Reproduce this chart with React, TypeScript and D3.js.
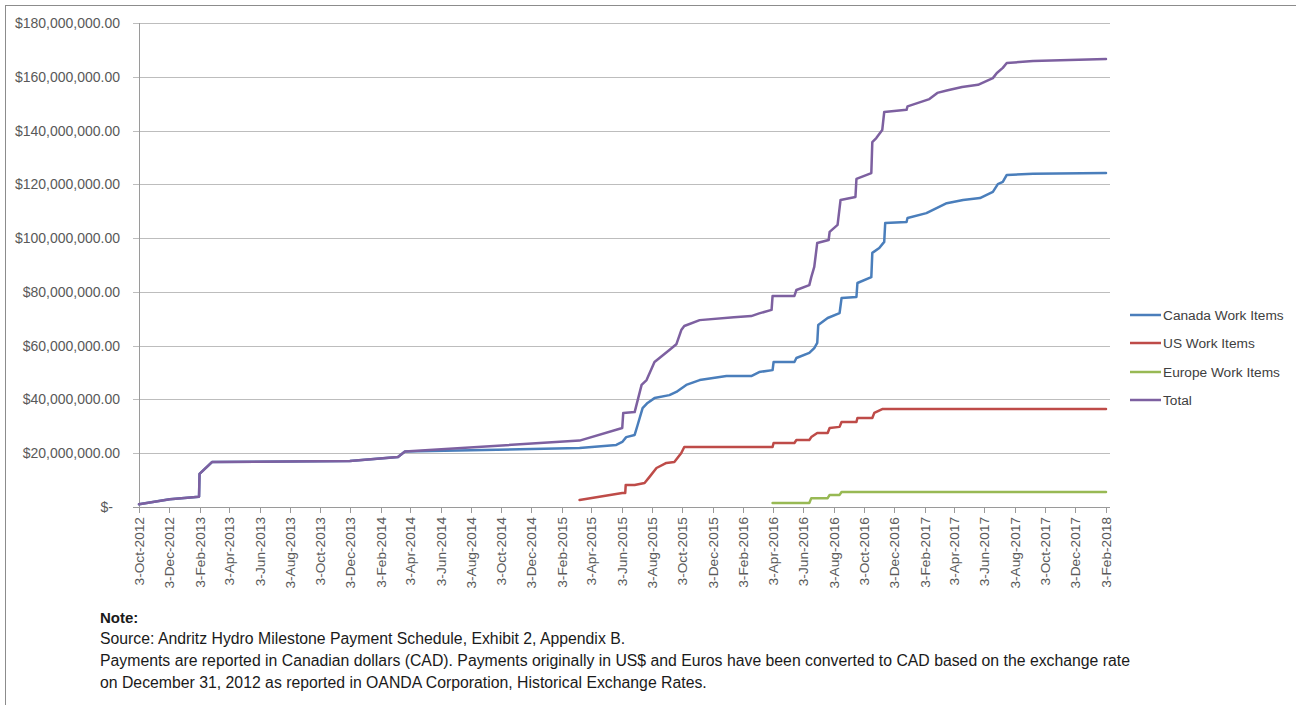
import React, { useEffect, useRef } from "react";
import * as d3 from "d3";

// ---- Data (values in millions of CAD) ----
const canadaDates = [
  "2012-10-03","2012-12-04","2013-02-01","2013-02-02","2013-02-27","2013-12-02","2014-03-09","2014-03-23",
  "2015-03-10","2015-05-23","2015-06-04","2015-06-12","2015-06-29","2015-07-05","2015-07-15","2015-07-25",
  "2015-08-08","2015-09-07","2015-09-21","2015-10-11","2015-11-07","2015-12-31","2016-02-19","2016-03-06",
  "2016-04-02","2016-04-04","2016-05-16","2016-05-20","2016-06-15","2016-06-25","2016-07-01","2016-07-03",
  "2016-07-22","2016-08-15","2016-08-19","2016-09-18","2016-09-20","2016-10-18","2016-10-20","2016-11-03",
  "2016-11-13","2016-11-15","2016-12-28","2016-12-30","2017-02-06","2017-03-19","2017-04-21","2017-05-25",
  "2017-06-20","2017-06-30","2017-07-10","2017-07-18","2017-09-09","2018-02-03"
];
const canadaValues = [
  1.0, 2.9, 3.8, 12.3, 16.7, 17.1, 18.6, 20.6,
  21.9, 23.1, 24.2, 26.0, 26.8, 30.5, 36.8, 38.7,
  40.5, 41.6, 42.8, 45.4, 47.2, 48.7, 48.7, 50.2,
  50.9, 53.9, 53.9, 55.4, 57.3, 59.1, 61.0, 67.7,
  70.3, 72.1, 77.7, 78.1, 83.3, 85.5, 94.5, 96.3,
  98.6, 105.6, 106.0, 107.5, 109.3, 113.0, 114.2, 114.9,
  117.2, 120.1, 120.9, 123.5, 123.9, 124.2
];

const usDates = [
  "2015-03-10","2015-06-04","2015-06-10","2015-06-11","2015-06-29","2015-07-19","2015-07-29","2015-08-12",
  "2015-09-01","2015-09-17","2015-10-01","2015-10-07","2016-04-02","2016-04-04","2016-05-16","2016-05-20",
  "2016-06-15","2016-06-19","2016-07-01","2016-07-22","2016-07-26","2016-08-15","2016-08-19","2016-09-18",
  "2016-09-20","2016-10-20","2016-10-24","2016-11-09","2018-02-03"
];
const usValues = [
  2.6, 5.2, 5.2, 8.2, 8.2, 8.9, 11.2, 14.5,
  16.4, 16.7, 20.1, 22.3, 22.3, 23.8, 23.8, 24.9,
  24.9, 26.0, 27.5, 27.5, 29.4, 29.8, 31.6, 31.6,
  33.1, 33.1, 35.0, 36.4, 36.4
];

const europeDates = [
  "2016-04-02","2016-06-15","2016-06-19","2016-07-22","2016-07-26","2016-08-15","2016-08-19","2018-02-03"
];
const europeValues = [1.5, 1.5, 3.3, 3.3, 4.5, 4.5, 5.6, 5.6];

const totalDates = [
  "2012-10-03","2012-12-04","2013-02-01","2013-02-02","2013-02-27","2013-12-02","2014-03-09","2014-03-23",
  "2015-03-10","2015-06-04","2015-06-06","2015-06-29","2015-07-13","2015-07-23","2015-08-08","2015-08-18",
  "2015-09-07","2015-09-21","2015-10-01","2015-10-07","2015-11-07","2016-01-15","2016-02-19","2016-03-06",
  "2016-03-31","2016-04-02","2016-05-16","2016-05-20","2016-06-15","2016-06-19","2016-06-25","2016-07-01",
  "2016-07-24","2016-07-26","2016-08-11","2016-08-17","2016-09-16","2016-09-18","2016-10-18","2016-10-20",
  "2016-10-28","2016-11-09","2016-11-13","2016-12-28","2016-12-30","2017-02-12","2017-02-28","2017-03-21",
  "2017-04-19","2017-05-21","2017-06-20","2017-06-28","2017-07-10","2017-07-18","2017-09-09","2018-02-03"
];
const totalValues = [
  1.0, 2.9, 3.8, 12.3, 16.7, 17.1, 18.6, 20.6,
  24.7, 29.4, 35.0, 35.3, 45.4, 47.2, 53.9, 55.4,
  58.4, 60.5, 65.8, 67.3, 69.5, 70.6, 71.0, 72.0,
  73.3, 78.5, 78.5, 80.7, 82.5, 85.5, 89.3, 98.2,
  99.3, 102.3, 104.9, 114.2, 115.3, 122.0, 124.2, 135.7,
  137.2, 140.2, 146.9, 147.7, 149.0, 151.7, 154.0, 155.0,
  156.2, 157.0, 159.5, 161.4, 163.3, 165.1, 165.9, 166.6
];

const seriesNames = ["Canada Work Items", "US Work Items", "Europe Work Items", "Total"];
const seriesColors = ["#4A7EBB", "#BE4B48", "#98B954", "#7D60A0"];
const yTickValues = [0, 20, 40, 60, 80, 100, 120, 140, 160, 180];
const xStartDate = "2012-10-03";
const xEndDate = "2018-02-03";
const noteLines = [
  "Source: Andritz Hydro Milestone Payment Schedule, Exhibit 2, Appendix B.",
  "Payments are reported in Canadian dollars (CAD). Payments originally in US$ and Euros have been converted to CAD based on the exchange rate",
  "on December 31, 2012 as reported in OANDA Corporation, Historical Exchange Rates."
];

const FONT = "'Liberation Sans', Arial, sans-serif";

export default function App() {
  const ref = useRef<SVGSVGElement | null>(null);

  useEffect(() => {
    document.body.style.margin = "0";
    const svg = d3.select(ref.current);
    svg.selectAll("*").remove();

    const parse = d3.timeParse("%Y-%m-%d");
    const left = 139, right = 1106, top = 23, bottom = 507;
    const x = d3.scaleTime().domain([parse(xStartDate)!, parse(xEndDate)!]).range([left, right]);
    const y = d3.scaleLinear().domain([0, 180]).range([bottom, top]);

    // frame
    svg.append("rect").attr("x", 5.5).attr("y", 5.5).attr("width", 1400).attr("height", 800)
      .attr("fill", "white").attr("stroke", "#8C8C8C").attr("stroke-width", 1);

    // gridlines + y labels
    const fmt = d3.format("$,.2f");
    yTickValues.forEach((v) => {
      const yy = Math.round(y(v)) + 0.5;
      svg.append("line").attr("x1", left - 6).attr("x2", 1110).attr("y1", yy).attr("y2", yy)
        .attr("stroke", v === 0 ? "#9A9A9A" : "#BDBDBD").attr("stroke-width", 1);
      svg.append("text")
        .attr("x", v === 0 ? 113 : 120).attr("y", yy).attr("dy", "0.35em")
        .attr("text-anchor", "end").attr("font-family", FONT).attr("font-size", 14)
        .attr("fill", "#595959")
        .text(v === 0 ? "$-" : fmt(v * 1e6));
    });

    // y axis line
    svg.append("line").attr("x1", left + 0.5).attr("x2", left + 0.5).attr("y1", top).attr("y2", bottom)
      .attr("stroke", "#9A9A9A");

    // x ticks every two months
    const ticks: Date[] = [];
    const start = parse(xStartDate)!;
    for (let i = 0; i <= 32; i++) ticks.push(new Date(start.getFullYear(), start.getMonth() + 2 * i, 3));
    const tf = d3.timeFormat("%-d-%b-%Y");
    ticks.forEach((t) => {
      const xx = Math.round(x(t)) + 0.5;
      svg.append("line").attr("x1", xx).attr("x2", xx).attr("y1", bottom).attr("y2", bottom + 6)
        .attr("stroke", "#9A9A9A");
      svg.append("text")
        .attr("transform", `translate(${xx},${bottom + 10}) rotate(-90)`)
        .attr("text-anchor", "end").attr("dy", "0.35em")
        .attr("font-family", FONT).attr("font-size", 13.7).attr("fill", "#595959")
        .text(tf(t));
    });

    // series
    const all = [
      { d: canadaDates, v: canadaValues },
      { d: usDates, v: usValues },
      { d: europeDates, v: europeValues },
      { d: totalDates, v: totalValues },
    ];
    const line = d3.line<[Date, number]>().x((p) => x(p[0])).y((p) => y(p[1]));
    all.forEach((s, i) => {
      const pts: [Date, number][] = s.d.map((dd, k) => [parse(dd)!, s.v[k]]);
      svg.append("path").attr("d", line(pts)!).attr("fill", "none")
        .attr("stroke", seriesColors[i]).attr("stroke-width", 2.5)
        .attr("stroke-linejoin", "round").attr("stroke-linecap", "round");
    });

    // legend
    const legY = [315, 343, 372, 400];
    seriesNames.forEach((n, i) => {
      svg.append("line").attr("x1", 1130).attr("x2", 1161).attr("y1", legY[i]).attr("y2", legY[i])
        .attr("stroke", seriesColors[i]).attr("stroke-width", 2.5);
      svg.append("text").attr("x", 1163).attr("y", legY[i]).attr("dy", "0.35em")
        .attr("font-family", FONT).attr("font-size", 13.7).attr("fill", "#404040").text(n);
    });

    // note
    svg.append("text").attr("x", 100).attr("y", 623).attr("font-family", FONT)
      .attr("font-size", 15).attr("font-weight", "bold").attr("fill", "#1a1a1a").text("Note:");
    const noteY = [644, 666, 688];
    noteLines.forEach((l, i) => {
      svg.append("text").attr("x", 100).attr("y", noteY[i]).attr("font-family", FONT)
        .attr("font-size", 15.8).attr("fill", "#1a1a1a").text(l);
    });
  }, []);

  return (
    <svg ref={ref} width={1296} height={705} style={{ display: "block", position: "absolute", left: 0, top: 0 }} />
  );
}
